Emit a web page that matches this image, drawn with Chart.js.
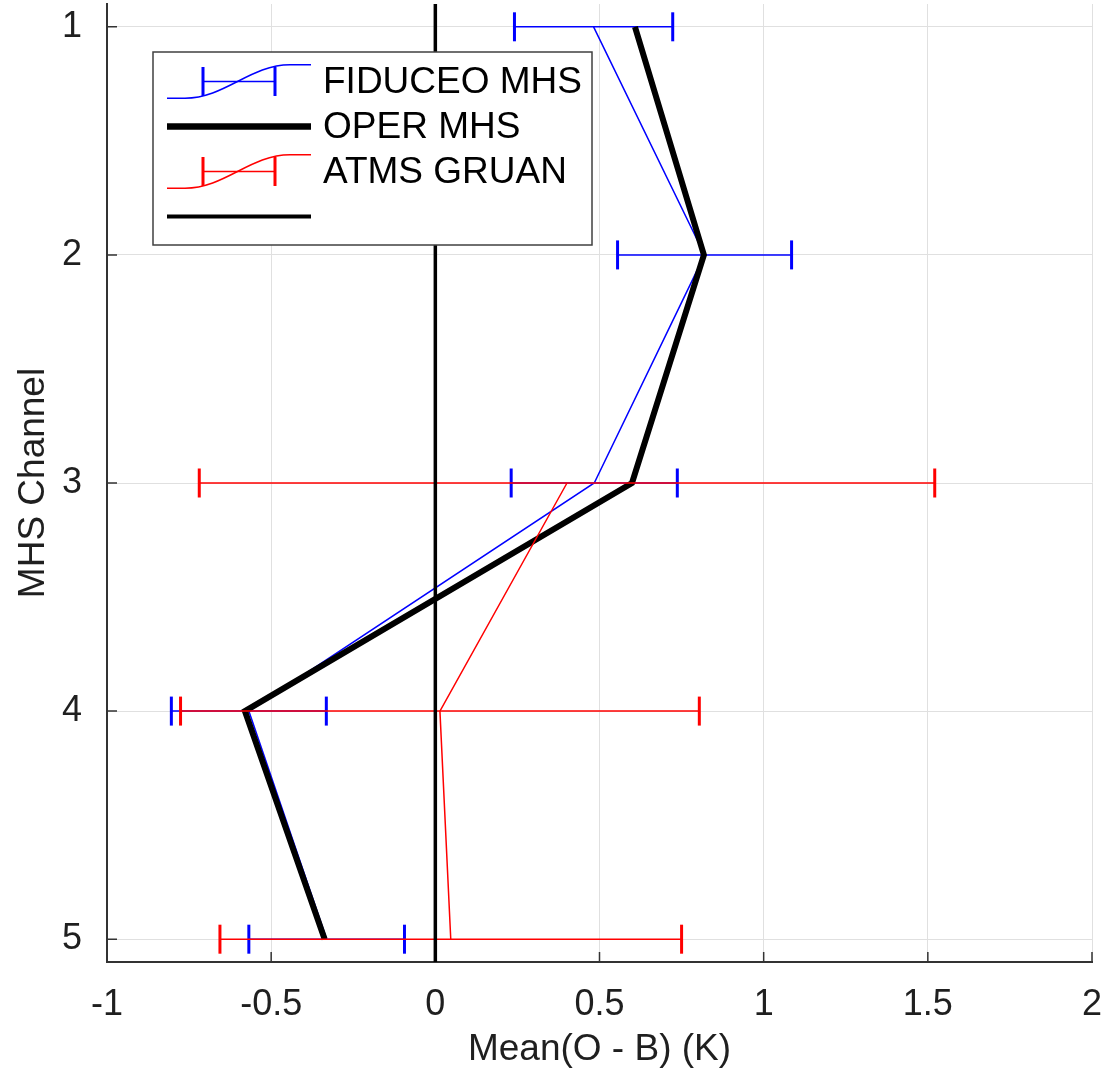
<!DOCTYPE html>
<html><head><meta charset="utf-8">
<script src="https://cdn.jsdelivr.net/npm/chart.js@4.4.0/dist/chart.umd.min.js"></script>
<style>html,body{margin:0;padding:0;background:#fff;} canvas{display:block;}</style>
</head><body>
<canvas id="c" width="1115" height="1072"></canvas>
<script>
// ---- data ----
const channels    = [1, 2, 3, 4, 5];
const fiduceoMean = [0.482, 0.820, 0.484, -0.568, -0.331];
const fiduceoErr  = [0.241, 0.265, 0.253, 0.236, 0.237];
const operMean    = [0.608, 0.818, 0.599, -0.580, -0.337];
const gruanMean   = [null, null, 0.401, 0.014, 0.047];
const gruanErr    = [null, null, 1.120, 0.790, 0.703];
const zeroLineX   = [0, 0];
const zeroLineY   = [0.9, 5.1];
const seriesNames = ['FIDUCEO MHS', 'OPER MHS', 'ATMS GRUAN', ''];
const xTickValues = [-1, -0.5, 0, 0.5, 1, 1.5, 2];
const xTickLabels = ['-1', '-0.5', '0', '0.5', '1', '1.5', '2'];
const yTickValues = [1, 2, 3, 4, 5];
const yTickLabels = ['1', '2', '3', '4', '5'];
const xRange = [-1, 2];
const yRange = [0.9, 5.1];
const xTitle = 'Mean(O - B) (K)';
const yTitle = 'MHS Channel';

const BLUE = '#0000ff', RED = '#ff0000', BLACK = '#000000';
const FONT = "'Liberation Sans', Arial, Helvetica, sans-serif";

function linePoints(means) {
  return channels.map((c, i) => ({ x: means[i] == null ? null : means[i], y: c }));
}
function errPoints(means, errs) {
  const pts = [];
  channels.forEach((c, i) => {
    if (means[i] == null) return;
    pts.push({ x: means[i] - errs[i], y: c }, { x: means[i] + errs[i], y: c }, { x: null, y: c });
  });
  return pts;
}

const errStyle = (color, order) => ({
  showLine: true, borderColor: color, borderWidth: 1.5,
  pointStyle: 'line', pointRotation: 90, pointRadius: 14.5, pointHoverRadius: 14.5,
  pointBorderColor: color, pointBorderWidth: 3, pointBackgroundColor: color,
  spanGaps: false, order: order
});

const datasets = [
  Object.assign({ label: seriesNames[0] + ' err', data: errPoints(fiduceoMean, fiduceoErr) }, errStyle(BLUE, 5)),
  { label: seriesNames[0], data: linePoints(fiduceoMean), showLine: true, borderColor: BLUE, borderWidth: 1.5, pointRadius: 0, order: 6 },
  { label: seriesNames[1], data: linePoints(operMean), showLine: true, borderColor: BLACK, borderWidth: 6, pointRadius: 0, order: 4 },
  Object.assign({ label: seriesNames[2] + ' err', data: errPoints(gruanMean, gruanErr) }, errStyle(RED, 2)),
  { label: seriesNames[2], data: linePoints(gruanMean), showLine: true, borderColor: RED, borderWidth: 1.5, pointRadius: 0, order: 3 },
  { label: seriesNames[3], data: zeroLineX.map((x, i) => ({ x: x, y: zeroLineY[i] })), showLine: true, borderColor: BLACK, borderWidth: 3.5, pointRadius: 0, order: 1 }
];

const legendEntries = [
  { label: seriesNames[0], color: BLUE, kind: 'errorbar', width: 1.5 },
  { label: seriesNames[1], color: BLACK, kind: 'line', width: 6.5 },
  { label: seriesNames[2], color: RED, kind: 'errorbar', width: 1.5 },
  { label: seriesNames[3], color: BLACK, kind: 'line', width: 4 }
];

const innerTicks = {
  id: 'innerTicks',
  beforeDatasetsDraw(chart) {
    const { ctx, chartArea: a, scales: { x, y } } = chart;
    ctx.save();
    ctx.strokeStyle = '#333'; ctx.lineWidth = 1.5;
    ctx.beginPath();
    x.ticks.forEach(t => { const px = x.getPixelForValue(t.value); ctx.moveTo(px, a.bottom); ctx.lineTo(px, a.bottom - 10); });
    y.ticks.forEach(t => { const py = y.getPixelForValue(t.value); ctx.moveTo(a.left, py); ctx.lineTo(a.left + 10, py); });
    ctx.stroke();
    ctx.restore();
  }
};

const inlineLegend = {
  id: 'inlineLegend',
  afterDraw(chart) {
    const { ctx, chartArea: a } = chart;
    const bx = a.left + 46, by = a.top + 48, bw = 439, bh = 193;
    ctx.save();
    ctx.fillStyle = '#fff';
    ctx.fillRect(bx, by, bw, bh);
    ctx.strokeStyle = '#404040'; ctx.lineWidth = 1.5;
    ctx.strokeRect(bx, by, bw, bh);
    const x0 = bx + 14, x1 = bx + 158, tx = bx + 170;
    legendEntries.forEach((e, i) => {
      const ry = by + 29.5 + i * 45;
      ctx.strokeStyle = e.color; ctx.lineWidth = e.width;
      if (e.kind === 'line') {
        ctx.beginPath(); ctx.moveTo(x0, ry); ctx.lineTo(x1, ry); ctx.stroke();
      } else {
        const h = 16.7;
        ctx.beginPath();
        ctx.moveTo(x0, ry + h); ctx.lineTo(x0 + 18, ry + h);
        ctx.bezierCurveTo(x0 + 58, ry + h, x0 + 83, ry - h, x0 + 123, ry - h);
        ctx.lineTo(x1, ry - h);
        ctx.stroke();
        const c0 = x0 + 36, c1 = x0 + 108;
        ctx.beginPath(); ctx.moveTo(c0, ry); ctx.lineTo(c1, ry); ctx.stroke();
        ctx.lineWidth = 3;
        ctx.beginPath();
        ctx.moveTo(c0, ry - 14.5); ctx.lineTo(c0, ry + 14.5);
        ctx.moveTo(c1, ry - 14.5); ctx.lineTo(c1, ry + 14.5);
        ctx.stroke();
      }
      if (e.label) {
        ctx.fillStyle = '#000';
        ctx.font = '37px ' + FONT;
        ctx.textBaseline = 'middle';
        ctx.textAlign = 'left';
        ctx.fillText(e.label, tx, ry + 1);
      }
    });
    ctx.restore();
  }
};

function zeroPad(s) { s.paddingTop = 0; s.paddingBottom = 0; s.paddingLeft = 0; s.paddingRight = 0; }

Chart.defaults.font.family = FONT;
Chart.defaults.color = '#1f1f1f';

new Chart(document.getElementById('c'), {
  type: 'scatter',
  data: { datasets },
  plugins: [innerTicks, inlineLegend],
  options: {
    responsive: false,
    animation: false,
    events: [],
    layout: { autoPadding: false, padding: { left: 0, right: 23, top: 4, bottom: 0 } },
    elements: { line: { tension: 0, borderJoinStyle: 'miter', borderCapStyle: 'butt' } },
    plugins: { legend: { display: false }, tooltip: { enabled: false } },
    scales: {
      x: {
        type: 'linear', min: xRange[0], max: xRange[1],
        afterBuildTicks: s => { s.ticks = xTickValues.map(v => ({ value: v })); },
        afterFit: s => { s.height = 110; zeroPad(s); },
        ticks: { callback: (v, i) => xTickLabels[i], font: { size: 36 }, padding: 21, color: '#1f1f1f', maxRotation: 0 },
        grid: { color: '#e0e0e0', lineWidth: 1, drawTicks: false },
        border: { display: true, color: '#333', width: 2 },
        title: { display: true, text: xTitle, font: { size: 37 }, color: '#1f1f1f', padding: { top: 0, bottom: 0 } }
      },
      y: {
        type: 'linear', reverse: true, min: yRange[0], max: yRange[1],
        afterBuildTicks: s => { s.ticks = yTickValues.map(v => ({ value: v })); },
        afterFit: s => { s.width = 107; zeroPad(s); },
        ticks: { callback: (v, i) => yTickLabels[i], font: { size: 36 }, padding: 25, color: '#1f1f1f' },
        grid: { color: '#e0e0e0', lineWidth: 1, drawTicks: false },
        border: { display: true, color: '#333', width: 2 },
        title: { display: true, text: yTitle, font: { size: 37 }, color: '#1f1f1f', padding: { top: 12, bottom: 0 } }
      }
    }
  }
});
</script>
</body></html>
